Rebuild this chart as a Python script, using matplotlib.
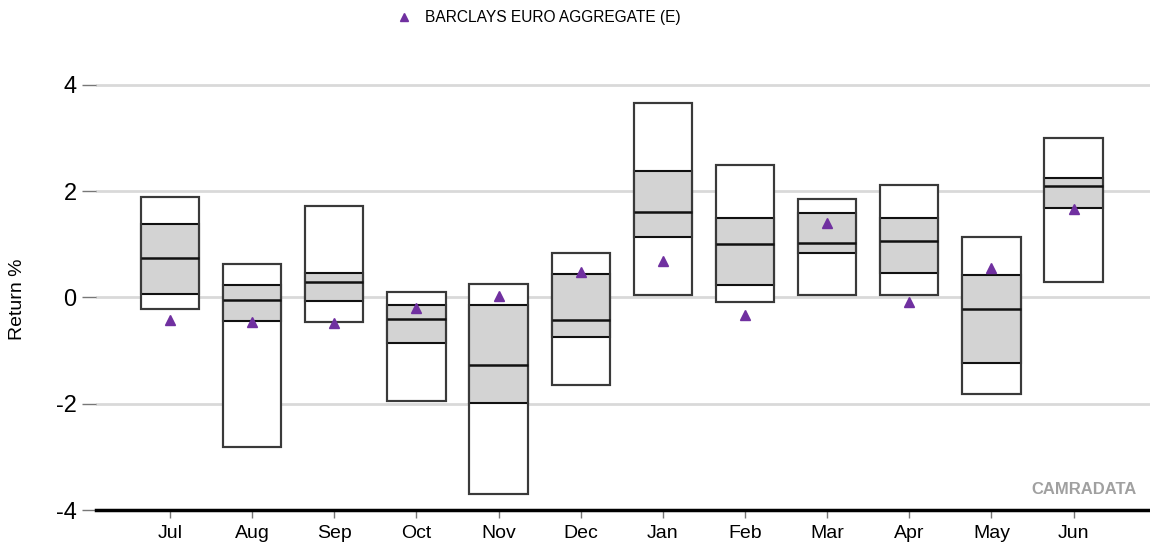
import numpy as np
import matplotlib.pyplot as plt

plt.rcParams['font.family'] = ['Liberation Sans', 'DejaVu Sans']

# monthly return distributions (%)
months = ["Jul", "Aug", "Sep", "Oct", "Nov", "Dec", "Jan", "Feb", "Mar", "Apr", "May", "Jun"]
p95 = [1.89, 0.63, 1.72, 0.10, 0.26, 0.84, 3.65, 2.49, 1.86, 2.11, 1.14, 2.99]
p75 = [1.39, 0.23, 0.46, -0.15, -0.14, 0.44, 2.38, 1.50, 1.59, 1.49, 0.43, 2.25]
median = [0.75, -0.04, 0.29, -0.40, -1.27, -0.43, 1.61, 1.00, 1.03, 1.07, -0.21, 2.09]
p25 = [0.06, -0.44, -0.06, -0.85, -1.99, -0.75, 1.13, 0.24, 0.83, 0.46, -1.23, 1.68]
p5 = [-0.22, -2.81, -0.46, -1.94, -3.70, -1.65, 0.05, -0.09, 0.04, 0.04, -1.82, 0.29]
benchmark = [-0.42, -0.47, -0.49, -0.19, 0.02, 0.47, 0.68, -0.33, 1.40, -0.08, 0.55, 1.66]

x = np.arange(len(months))
w = 0.71

fig = plt.figure(figsize=(11.5, 5.48), dpi=100)
ax = fig.add_axes([0.0835, 0.0693, 0.9165, 0.84])

p95a, p75a, p25a, p5a = map(np.array, (p95, p75, p25, p5))
ax.bar(x, p95a - p5a, bottom=p5a, width=w, facecolor="white", edgecolor="#3a3a3a", linewidth=1.5, zorder=3)
ax.bar(x, p75a - p25a, bottom=p25a, width=w, facecolor="#d3d3d3", edgecolor="#111111", linewidth=1.5, zorder=4)
# redraw outer outline so sides stay dark grey
ax.bar(x, p95a - p5a, bottom=p5a, width=w, facecolor="none", edgecolor="#3a3a3a", linewidth=1.5, zorder=5)
ax.hlines(median, x - w / 2, x + w / 2, color="#111111", linewidth=1.8, zorder=6)

ax.plot(x, benchmark, linestyle="none", marker="^", markersize=7.5, color="#7030A0", zorder=7,
        label="BARCLAYS EURO AGGREGATE (E)")

ax.set_xlim(-0.9, 11.93)
ax.set_ylim(-4, 4.66)
ax.set_yticks([-4, -2, 0, 2, 4])
ax.set_yticklabels(["-4", "-2", "0", "2", "4"])
ax.set_xticks(x)
ax.set_xticklabels(months)

ax.yaxis.grid(True, color="#d9d9d9", linewidth=2, zorder=0)
ax.set_axisbelow(True)
for s in ["top", "right", "left"]:
    ax.spines[s].set_visible(False)
ax.spines["bottom"].set_color("black")
ax.spines["bottom"].set_linewidth(2.5)

ax.tick_params(axis="y", length=10, width=1, color="#777777", labelsize=17, pad=4)
ax.tick_params(axis="x", length=6, width=1, color="#777777", labelsize=14, pad=5)

ax.set_ylabel("Return %", fontsize=14)
ax.yaxis.set_label_coords(-0.066, 0.457)

ax.text(0.987, 0.045, "CAMRADATA", transform=ax.transAxes, ha="right", va="center",
        fontsize=12, fontweight="bold", color="#a0a0a0")

fig.legend(loc="upper left", bbox_to_anchor=(0.332, 1.007), frameon=False, fontsize=11.2,
           handletextpad=0.9, markerscale=0.8, handlelength=1.0)

fig.savefig("out.png", dpi=100)
